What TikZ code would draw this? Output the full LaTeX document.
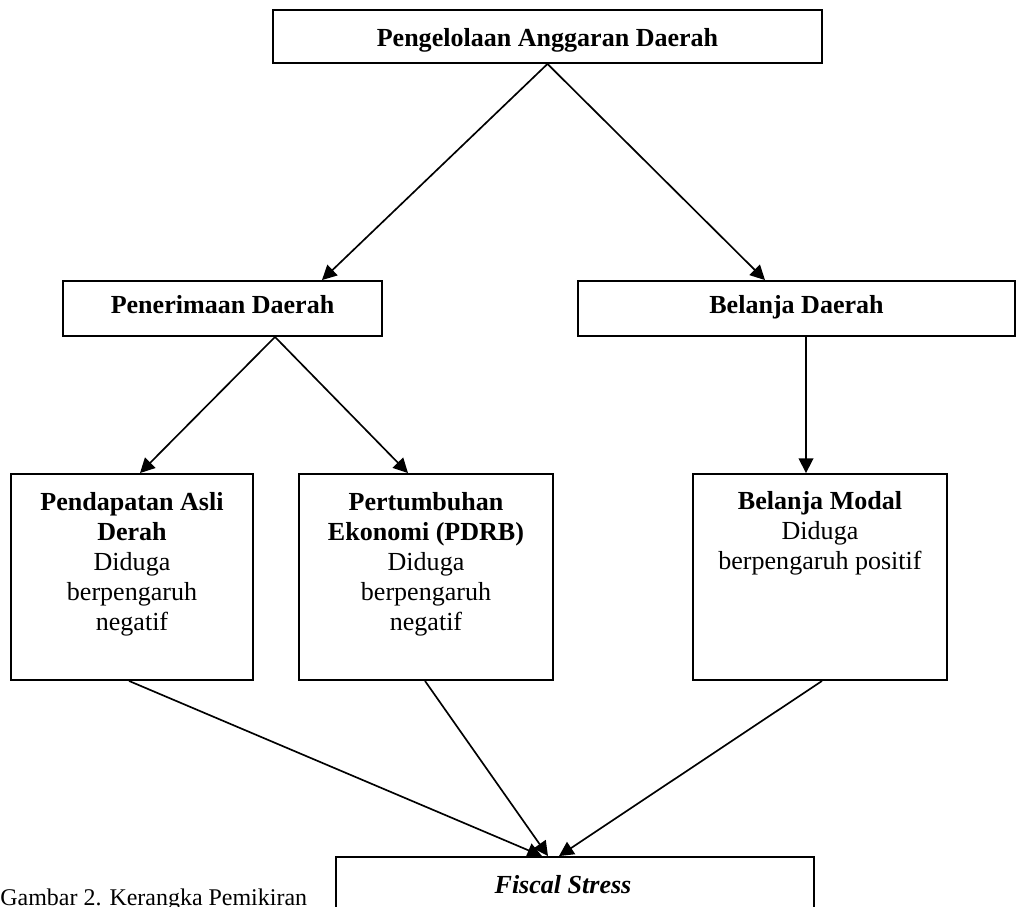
\documentclass[tikz,border=0pt]{standalone}
\usepackage{fontspec}
\setmainfont{Liberation Serif}
\usetikzlibrary{arrows.meta,calc}

\tikzset{
  kotak/.style={draw, line width=0.9pt, inner sep=0pt},
  judul/.style={font=\fontsize{12.5}{14.4}\selectfont\bfseries, text height=0.7em, text depth=0.22em},
  isi/.style={align=center, inner sep=0pt, anchor=north, font=\fontsize{12.5}{14.4}\selectfont},
  panah/.style={-{Triangle[length=7pt,width=7pt]}, line width=0.8pt},
}

\begin{document}
\begin{tikzpicture}[x=0.48pt, y=-0.48pt]
\useasboundingbox (0,0) rectangle (1024,907);
\clip (0,0) rectangle (1024,907);

% baris atas
\node[kotak, judul, minimum width=549*0.48pt, minimum height=53*0.48pt] (atas) at (547.5,36.5) {\raisebox{-2.4pt}{Pengelolaan Anggaran Daerah}};

% baris kedua
\node[kotak, judul, minimum width=319*0.48pt, minimum height=55*0.48pt] (terima) at (222.5,308.5) {Penerimaan Daerah};
\node[kotak, judul, minimum width=437*0.48pt, minimum height=55*0.48pt] (belanja) at (796.5,308.5) {Belanja Daerah};

% variabel
\node[kotak, minimum width=242*0.48pt, minimum height=206*0.48pt] (pad) at (132,577) {};
\node[kotak, minimum width=254*0.48pt, minimum height=206*0.48pt] (pdrb) at (426,577) {};
\node[kotak, minimum width=254*0.48pt, minimum height=206*0.48pt] (modal) at (820,577) {};

\node[isi] (padteks) at ($(pad.north)+(0,19)$) {\textbf{Pendapatan Asli}\\ \textbf{Derah}\\ Diduga\\ berpengaruh\\ negatif};
\node[isi] (pdrbteks) at ($(pdrb.north)+(0,19)$) {\textbf{Pertumbuhan}\\ \textbf{Ekonomi (PDRB)}\\ Diduga\\ berpengaruh\\ negatif};
\node[isi] (modalteks) at ($(modal.north)+(0,18)$) {\textbf{Belanja Modal}\\ Diduga\\ berpengaruh positif};

% fiscal stress (terpotong di bawah)
\node[kotak, minimum width=478*0.48pt, minimum height=120*0.48pt] (fiscal) at (575,917) {};
\node[font=\fontsize{12.5}{14.4}\selectfont\bfseries, anchor=base, inner sep=0pt] (fiscalteks) at (563,893) {\textit{Fiscal Stress}};

% \node at (0,0) {};
\node[anchor=base west, inner sep=0pt, font=\fontsize{11.5}{13}\selectfont] (gambar) at (0,905) {Gambar 2. Kerangka Pemikiran};

\draw[panah] (atas.south) -- ($(terima.north)+(99.5,0)$);
\draw[panah] (atas.south) -- ($(belanja.north)+(-31.5,0)$);
\draw[panah] ($(terima.south)+(52.5,0)$) -- ($(pad.north)+(8,0)$);
\draw[panah] ($(terima.south)+(52.5,0)$) -- ($(pdrb.north)+(-18,0)$);
\draw[panah] ($(belanja.south)+(9.5,0)$) -- ($(modal.north)+(-14,0)$);
\draw[panah] ($(pad.south)+(-3,0)$) -- ($(fiscal.north)+(-33,0)$);
\draw[panah] ($(pdrb.south)+(-1,0)$) -- ($(fiscal.north)+(-27,0)$);
\draw[panah] ($(modal.south)+(2,0)$) -- ($(fiscal.north)+(-16,0)$);

\end{tikzpicture}
\end{document}
